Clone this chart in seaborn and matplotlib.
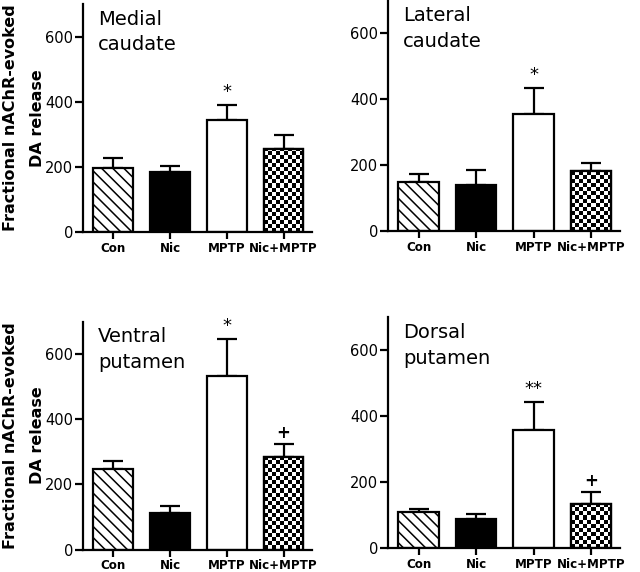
import numpy as np
import pandas as pd
import matplotlib
matplotlib.use("Agg")
import matplotlib.pyplot as plt
import seaborn as sns

groups = ["Con", "Nic", "MPTP", "Nic+MPTP"]
titles = ["Medial\ncaudate", "Lateral\ncaudate", "Ventral\nputamen", "Dorsal\nputamen"]

medial_caudate_mean = [196, 184, 345, 255]
medial_caudate_sem = [30, 19, 45, 44]
lateral_caudate_mean = [148, 140, 354, 181]
lateral_caudate_sem = [26, 44, 80, 25]
ventral_putamen_mean = [247, 112, 533, 283]
ventral_putamen_sem = [26, 22, 112, 41]
dorsal_putamen_mean = [109, 90, 358, 134]
dorsal_putamen_sem = [9, 15, 85, 37]

medial_caudate_sig = ["", "", "*", ""]
lateral_caudate_sig = ["", "", "*", ""]
ventral_putamen_sig = ["", "", "*", "+"]
dorsal_putamen_sig = ["", "", "**", "+"]

yticks = [0, 200, 400, 600]
ylabel = "Fractional nAChR-evoked\nDA release"

panels = [
    (medial_caudate_mean, medial_caudate_sem, medial_caudate_sig),
    (lateral_caudate_mean, lateral_caudate_sem, lateral_caudate_sig),
    (ventral_putamen_mean, ventral_putamen_sem, ventral_putamen_sig),
    (dorsal_putamen_mean, dorsal_putamen_sem, dorsal_putamen_sig),
]

sns.set_style("ticks")
plt.rcParams["font.family"] = ["DejaVu Sans"]
plt.rcParams["hatch.linewidth"] = 1.1
for k in ["text.color", "axes.labelcolor", "xtick.color", "ytick.color", "axes.edgecolor"]:
    plt.rcParams[k] = "black"

fig = plt.figure(figsize=(6.4, 5.72), dpi=100)
rects = [
    [83 / 640, 1 - 232 / 572, 229 / 640, 228 / 572],
    [388 / 640, 1 - 231 / 572, 232 / 640, 231 / 572],
    [83 / 640, 1 - 549.5 / 572, 229 / 640, 228 / 572],
    [388 / 640, 1 - 548.3 / 572, 232 / 640, 231 / 572],
]

lw = 1.6
for i, ((means, sems, sigs), title, rect) in enumerate(zip(panels, titles, rects)):
    ax = fig.add_axes(rect)
    df = pd.DataFrame({"group": groups, "value": means, "sem": sems})
    sns.barplot(data=df, x="group", y="value", ax=ax, color="white",
                edgecolor="black", linewidth=lw, width=0.7, errorbar=None,
                saturation=1)
    ax.set_xlim(-0.53, 3.5)
    ax.set_ylim(0, 700)
    patches = list(ax.patches)
    patches[0].set_facecolor("white")
    patches[0].set_hatch("\\\\\\")
    patches[1].set_facecolor("black")
    patches[2].set_facecolor("white")
    patches[3].set_facecolor("white")
    xs = np.arange(len(groups))
    ax.errorbar(xs, means, yerr=[np.zeros(len(sems)), sems], fmt="none",
                ecolor="black", elinewidth=lw, capsize=7.3, capthick=lw, zorder=1)
    for p in patches:
        p.set_zorder(2)
    # checkerboard fill for last bar
    fig.canvas.draw()
    p = patches[3]
    x0, y0 = p.get_x(), p.get_y()
    w, h = p.get_width(), p.get_height()
    (px0, py0) = ax.transData.transform((x0, y0))
    (px1, py1) = ax.transData.transform((x0 + w, y0 + h))
    cell = 4.0
    nx = max(1, int(round((px1 - px0) / cell)))
    ny = max(1, int(np.ceil((py1 - py0) / cell)))
    checker = (np.add.outer(np.arange(ny), np.arange(nx)) % 2).astype(float)
    im = ax.imshow(checker, cmap="gray", extent=(x0, x0 + w, y0, y0 + ny * cell / (py1 - py0) * h),
                   origin="lower", interpolation="nearest", aspect="auto", zorder=2.5)
    im.set_clip_path(p)
    edge = plt.Rectangle((x0, y0), w, h, fill=False, edgecolor="black", linewidth=lw, zorder=3)
    ax.add_patch(edge)
    ax.set_xlim(-0.53, 3.5)
    ax.set_ylim(0, 700)
    # significance marks
    for x, m, s, sig in zip(xs, means, sems, sigs):
        if not sig:
            continue
        if sig.startswith("*"):
            ax.text(x, m + s + 40, sig, ha="center", va="center", fontsize=13)
        else:
            ax.text(x, m + s + 33, sig, ha="center", va="center", fontsize=12, fontweight="bold")
    ax.text(0.065, 0.975, title, transform=ax.transAxes, ha="left", va="top",
            fontsize=14, linespacing=1.45)
    sns.despine(ax=ax)
    for side in ["left", "bottom"]:
        ax.spines[side].set_linewidth(lw)
    ax.set_yticks(yticks)
    ax.set_yticklabels([str(t) for t in yticks])
    ax.tick_params(axis="y", length=6, width=lw, labelsize=10.5, pad=1)
    ax.tick_params(axis="x", length=5, width=lw, labelsize=8.6, pad=2)
    for lab in ax.get_xticklabels():
        lab.set_fontweight("bold")
    ax.set_xlabel("")
    if i % 2 == 0:
        ax.set_ylabel(ylabel, fontsize=11.5, fontweight="bold", linespacing=2.0)
        ax.yaxis.set_label_coords(-0.165, 0.5)
    else:
        ax.set_ylabel("")

fig.savefig("out.png", dpi=100)
